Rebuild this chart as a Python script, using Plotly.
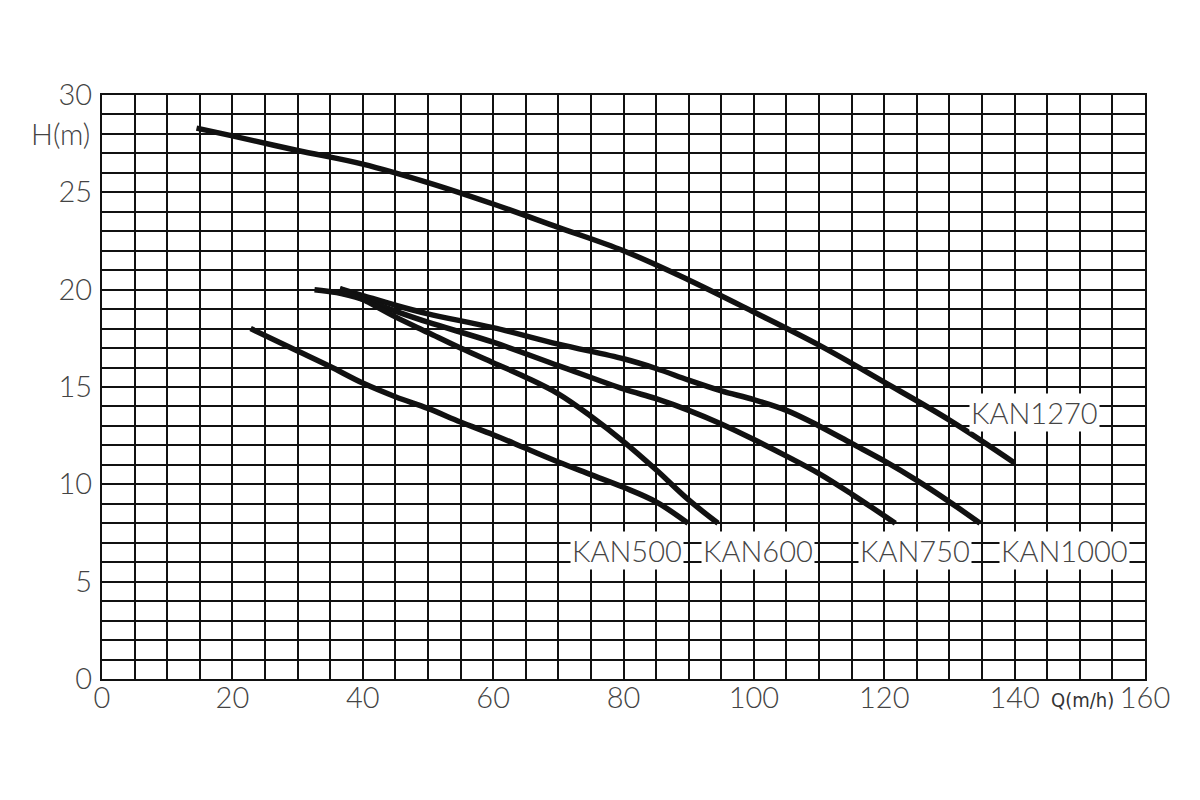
import plotly.graph_objects as go

# Pump performance curves: flow Q (m3/h) vs head H (m)
kan1270_q = [14.5, 20, 30, 40, 50, 60, 70, 80, 90, 100, 110, 120, 130, 140]
kan1270_h = [28.3, 27.9, 27.15, 26.45, 25.5, 24.4, 23.2, 22.0, 20.5, 18.85, 17.15, 15.25, 13.3, 11.1]

kan1000_q = [36.5, 40, 45, 50, 60, 70, 80, 85, 90, 95, 100, 105, 110, 115, 120, 125, 130, 134.7]
kan1000_h = [20.05, 19.7, 19.2, 18.76, 18.05, 17.2, 16.45, 15.95, 15.35, 14.8, 14.35, 13.8, 13.0, 12.1, 11.2, 10.2, 9.1, 8.0]

kan750_q = [32.6, 36, 40, 45, 50, 60, 70, 80, 85, 90, 95, 100, 105, 110, 115, 121.7]
kan750_h = [20.0, 19.85, 19.5, 18.9, 18.33, 17.3, 16.1, 14.9, 14.4, 13.8, 13.1, 12.3, 11.45, 10.55, 9.5, 8.0]

kan600_q = [36.5, 40, 45, 50, 55, 60, 65, 70, 75, 80, 85, 90, 94.5]
kan600_h = [20.05, 19.5, 18.6, 17.8, 17.0, 16.25, 15.5, 14.65, 13.5, 12.2, 10.75, 9.2, 8.0]

kan500_q = [22.8, 30, 35, 40, 45, 50, 55, 60, 65, 70, 75, 80, 85, 89.9]
kan500_h = [18.0, 16.85, 16.05, 15.2, 14.5, 13.9, 13.2, 12.55, 11.85, 11.15, 10.5, 9.85, 9.1, 8.0]

series = [
    ("KAN1270", kan1270_q, kan1270_h),
    ("KAN1000", kan1000_q, kan1000_h),
    ("KAN750", kan750_q, kan750_h),
    ("KAN600", kan600_q, kan600_h),
    ("KAN500", kan500_q, kan500_h),
]

label_names = ["KAN1270", "KAN500", "KAN600", "KAN750", "KAN1000"]
label_x = [143.1, 80.6, 100.7, 124.7, 147.7]
label_y = [13.7, 6.58, 6.58, 6.58, 6.58]

x_ticks = [0, 20, 40, 60, 80, 100, 120, 140, 160]
y_ticks = [0, 5, 10, 15, 20, 25, 30]

FONT = dict(family="Lato, Liberation Sans, sans-serif", size=29, color="#444444", weight=300)

fig = go.Figure()
for name, q, h in series:
    fig.add_trace(go.Scatter(
        x=q, y=h, mode="lines", name=name,
        line=dict(color="#111111", width=5.5, shape="spline", smoothing=1.0),
        showlegend=False, hoverinfo="skip",
    ))

for name, lx, ly in zip(label_names, label_x, label_y):
    fig.add_annotation(x=lx, y=ly, text=name, showarrow=False,
                       font=FONT, bgcolor="white", borderpad=1)

fig.add_annotation(x=0, y=28, xref="x", yref="y", text="H(m)", showarrow=False,
                   xanchor="right", xshift=-10, font=FONT)
fig.add_annotation(x=150.4, y=0, xref="x", yref="y", text="Q(m/h)", showarrow=False,
                   yanchor="top", yshift=-7,
                   font=dict(family="DejaVu Sans Condensed, DejaVu Sans, sans-serif",
                             size=20, color="#333333", weight=400))

axis_common = dict(
    showgrid=True, gridcolor="#111111", gridwidth=1.8,
    showline=True, linecolor="#111111", linewidth=2, mirror=True,
    zeroline=False, ticks="", tickfont=FONT,
)

fig.update_xaxes(
    range=[0, 160], tickmode="array", tickvals=x_ticks,
    ticktext=["0", "20", "40", "60", "80", "100", "120", "140", "160"],
    ticklabelstandoff=-8,
    minor=dict(dtick=5, tick0=0, showgrid=True, gridcolor="#111111", gridwidth=1.8),
    **axis_common,
)
fig.update_yaxes(
    range=[0, 30], tickmode="array", tickvals=y_ticks,
    ticklabelstandoff=2,
    minor=dict(dtick=1, tick0=0, showgrid=True, gridcolor="#111111", gridwidth=1.8),
    **axis_common,
)

fig.update_layout(
    width=1200, height=800,
    margin=dict(l=94, r=63, t=87, b=129),
    paper_bgcolor="white", plot_bgcolor="white",
)

fig.write_html("out.html")
